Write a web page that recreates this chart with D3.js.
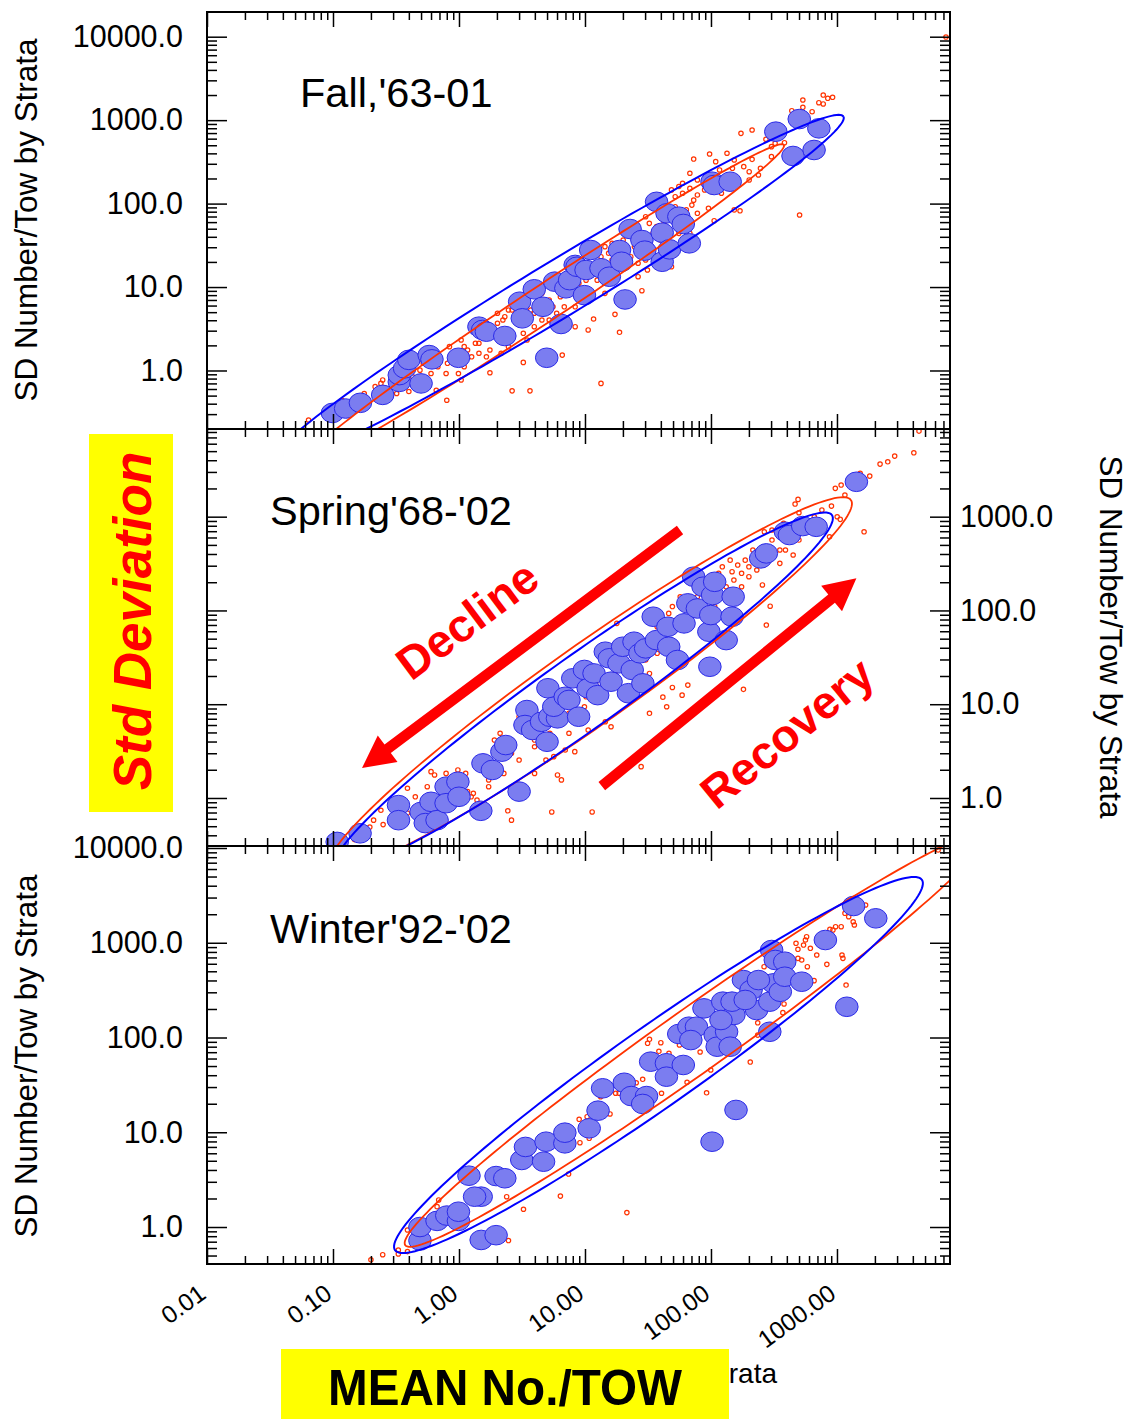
<!DOCTYPE html>
<html>
<head>
<meta charset="utf-8">
<script src="https://cdn.jsdelivr.net/npm/d3@7"></script>
<style>
  body { margin: 0; background: #fff; }
  svg { display: block; }
  text { font-family: Arial, "Liberation Sans", sans-serif; }
</style>
</head>
<body>
<div id="chart"></div>
<script>
// ---------- data (mean no./tow, SD no./tow) ----------
const xTickValues = [0.01, 0.1, 1, 10, 100, 1000];
const xTickLabels = ["0.01", "0.10", "1.00", "10.00", "100.00", "1000.00"];
const yTickValues = [1, 10, 100, 1000, 10000];
const yTickLabels = ["1.0", "10.0", "100.0", "1000.0", "10000.0"];
const panelTitles = ["Fall,'63-01", "Spring'68-'02", "Winter'92-'02"];

// big blue markers
const fallBlue = [[0.099,0.31],[0.126,0.35],[0.165,0.41],[0.248,0.51],[0.336,0.73],[0.336,0.88],[0.37,1.06],[0.40,1.34],[0.50,0.70],[0.58,1.53],[0.61,1.36],[0.99,1.42],[1.44,3.35],[1.54,3.06],[1.65,2.92],[2.31,2.59],[3.03,6.67],[3.18,4.22],[3.96,9.4],[4.64,5.8],[4.97,1.42],[5.75,11.6],[6.46,3.61],[7.05,9.66],[7.55,12.1],[8.36,18.4],[8.65,17.5],[9.9,8.0],[10.2,16.0],[11.1,27.8],[13.4,16.8],[15.6,13.3],[18.8,27.8],[19.5,20.1],[20.8,7.1],[22.8,49.6],[28.3,36.6],[29.8,27.3],[37,105],[41,44.8],[41,20.1],[44.8,76.5],[46.9,28.3],[55.6,69.7],[60.3,57],[67.3,33.4],[102,183],[106,167],[142,183],[327,728],[502,1030],[718,798],[448,372],[658,439]];

const springBlue = [[0.108,0.34],[0.164,0.42],[0.331,0.84],[0.331,0.58],[0.50,0.71],[0.60,0.91],[0.54,0.54],[0.67,0.58],[0.79,1.32],[0.98,1.49],[0.79,0.88],[1.0,1.03],[1.49,0.73],[1.55,2.34],[1.84,1.99],[2.19,3.12],[2.35,3.67],[3.0,1.17],[3.46,8.67],[3.34,6.0],[3.84,5.31],[4.52,6.5],[5.0,3.98],[5.26,7.36],[6.05,7.07],[5.08,14.8],[5.65,9.4],[6.97,12.0],[7.46,11.1],[8.0,18.9],[8.9,7.36],[9.9,23.2],[10.6,14.8],[11.8,21.3],[12.6,12.5],[14.5,36.3],[15.6,30.9],[16.1,17.4],[18.6,27.3],[19.9,41],[22.1,13.1],[23.7,23.2],[24.5,46.4],[27.3,34.9],[28.8,16.7],[30.3,39.4],[34.8,85.7],[36.9,48.3],[45.5,67],[46.2,41],[54.2,29.6],[61.1,72.8],[65.5,119],[72.8,229],[78,105],[86.5,179],[96.2,59.3],[98,25.1],[99.6,89.3],[103,146],[107,202],[132,48.3],[150,140],[147,85.7],[248,359],[275,406],[390,690],[419,637],[535,794],[684,780],[1426,2355]];

const winterBlue = [[0.49,0.72],[0.49,1.0],[0.67,1.16],[0.80,1.32],[0.99,1.16],[0.99,1.45],[1.2,3.48],[1.50,0.73],[1.97,0.82],[1.50,2.09],[1.33,2.09],[1.97,3.45],[2.31,3.27],[3.15,5.1],[3.37,7.0],[4.69,4.89],[4.91,7.95],[6.92,7.64],[6.92,9.9],[10.8,11.0],[12.7,16.9],[13.8,29.1],[20.5,33.3],[23.3,24.1],[30.8,24.1],[28.7,19.9],[33.2,55.6],[44.3,53.5],[44.3,38.6],[60.3,51.3],[55.5,109],[66.8,130],[76.7,130],[69.2,94],[88,203],[108,106],[112,80],[133,115],[142,80],[124,239],[152,173],[147,239],[120,153],[158,17.2],[102,7.95],[181,404],[208,317],[230,195],[293,115],[293,239],[313,373],[355,304],[303,838],[324,658],[385,631],[385,438],[525,388],[809,1069],[1197,211],[1355,2443],[2032,1811],[238,404],[187,249]];

// small red markers
const fallRed = [[536,1743],[778,2000],[845,1828],[923,1879],[718,1618],[778,1563],[536,1426],[635,1262],[438,1298],[173,695],[212,762],[273,590],[302,481],[383,537],[323,528],[97.5,393],[72.9,342],[109,318],[153,333],[212,339],[182,277],[148,265],[201,241],[238,220],[201,192],[247,265],[505,73],[153,84],[170,82],[106,62.4],[95.5,87.9],[78,76.5],[70.5,96],[78,127],[68,152],[59.5,175],[59.5,133],[89,146],[102,139],[121,133],[52,121],[28.3,9.04],[17.3,4.71],[18.8,2.87],[13.4,0.70],[11.7,4.14],[10.6,3.06],[8.36,3.35],[6.6,1.53],[3.24,1.25],[2.64,0.57],[3.66,0.57],[1.76,0.94],[0.80,0.44],[0.66,0.58],[0.40,0.56],[0.32,0.53],[0.24,0.70],[0.064,0.255],[2.02,4.85],[2.31,4.41],[2.64,5.31],[3.03,4.85],[2.02,3.68],[1.76,2.79],[1.35,2.12],[1.10,1.93],[1.04,2.32],[0.84,1.93],[0.81,1.22],[0.68,1.11],[0.60,0.92],[0.79,0.92],[0.99,0.92],[1.04,0.77],[1.44,1.61],[1.65,1.46],[1.26,1.46],[1.76,1.76],[2.64,2.79],[3.24,2.79],[3.96,3.35],[5.2,4.03],[5.96,4.85],[6.85,5.8],[5.2,7.0],[4.55,8.4],[7.8,8.4],[8.95,11.1],[10.2,12.1],[12.5,12.1],[14.4,14.6],[13.4,23.1],[15.4,25.4],[14.4,30.5],[16.4,33.4],[20.1,36.6],[23.1,23.1],[26.4,19.3],[30.3,21.1],[32.4,58],[30.3,69.7],[37,52.9],[52,91.8],[55.6,44],[68,44],[39.7,36.6],[48.6,17.5],[39.7,17.5],[26.4,13.3],[31.3,16.0],[4.55,4.03],[3.71,5.31],[3.47,2.32],[2.47,1.93],[2.16,1.61],[0.49,1.01],[0.43,0.84],[0.30,0.77],[0.216,0.64],[0.177,0.53],[0.118,0.44],[48.6,146],[78,192],[134,192],[117,253],[68,231],[55.6,160],[302,365],[134,401],[7330,9910],[2.23,4.03],[2.47,5.31],[2.83,4.03],[3.47,4.41],[3.96,4.85],[4.87,5.31],[5.57,5.8],[6.38,7.66],[7.3,10.1],[11.7,14.6],[12.5,17.5],[16.4,21.1],[17.6,27.8],[24.7,30.5],[26.4,40.1],[34.7,44],[42.5,58],[45.4,84],[63.7,84],[72.9,110],[0.90,1.22],[1.10,1.11],[1.17,1.76],[1.44,2.12],[0.52,1.22],[0.35,0.92],[0.248,0.77],[10.2,7.0],[14.4,8.4],[8.36,5.8]];

const springRed = [[4074,4798],[2871,4426],[2530,3847],[2198,3637],[1641,690],[1820,2710],[1528,2897],[970,2004],[1079,2173],[1156,1700],[491,1529],[465,1363],[499,1101],[295,111],[275,69.9],[181,14.4],[449,390],[352,318],[256,187],[163,305],[200,229],[147,259],[175,179],[215,441],[265,690],[352,611],[390,441],[1062,936],[873,611],[65.5,16.0],[59,12.5],[49.4,15.1],[41.5,11.9],[44.5,9.4],[32.5,8.0],[27.9,2.16],[17.9,72.8],[11.4,0.71],[5.45,0.71],[6.5,1.56],[6.05,1.76],[8.3,3.12],[16.1,5.75],[14.5,6.5],[2.44,0.73],[2.61,0.58],[1.39,0.95],[1.25,1.03],[1.17,1.17],[0.79,1.83],[0.64,1.76],[0.60,1.91],[0.39,1.27],[0.25,0.52],[0.21,0.58],[0.30,0.78],[0.39,0.69],[1.60,2.76],[1.91,4.15],[2.12,4.9],[3.11,8.3],[3.0,7.36],[3.98,1.83],[4.9,2.54],[5.65,2.76],[6.97,3.25],[10.2,12.0],[13.1,13.1],[17.3,18.1],[30.3,29.6],[37.4,34.9],[32.5,21.3],[46.2,93],[49.4,110],[57,140],[132,179],[115,249],[142,344],[175,249],[200,292],[265,478],[305,563],[377,849],[305,720],[708,849],[759,1175],[904,1297],[1004,998],[661,998],[24.5,37.8],[21.3,23.2],[37.4,67],[10.6,5.31],[7.46,4.9],[3.98,4.15],[2.61,3.0],[3.46,4.9],[2.12,2.16],[1.72,1.56],[1.13,1.83],[0.98,1.99],[0.56,1.32],[0.45,1.03],[0.24,0.74],[0.196,0.49],[0.148,0.36],[86.5,194],[78,140],[107,110],[4477,8180],[123,292],[152,211],[187,344],[231,270],[99.6,129],[80.8,93],[61.1,110],[53.1,79],[43,57],[34.8,48.3],[28.2,34.9],[21.3,29.6],[17.3,21.3],[13.1,16.7],[9.9,9.4],[7.46,8.0],[5.26,4.9],[3.98,3.52],[3.0,2.54],[2.27,1.83],[1.72,1.32],[1.30,1.12],[499,563],[574,720],[352,441]];

const winterRed = [[0.20,0.45],[0.248,0.51],[0.33,0.57],[0.33,0.52],[0.39,0.55],[0.39,0.93],[0.69,1.93],[0.67,1.64],[1.33,1.78],[1.58,1.78],[2.39,2.09],[2.47,0.72],[3.25,1.54],[6.38,2.12],[7.41,3.62],[9.12,7.76],[8.99,13.7],[10.4,14.6],[10.8,8.63],[15.8,15.6],[13.3,23.7],[17.5,25.8],[18.7,25.8],[25.5,33.3],[28.7,36.2],[21.5,1.42],[32.5,95.7],[31.4,86.9],[38.6,71.5],[40,88.1],[46.4,68.1],[40.5,25.8],[64.6,33.7],[56.2,83.4],[82,70.3],[99.6,45.4],[92.3,26.1],[205,55.1],[235,106],[235,143],[194,239],[192,224],[380,226],[372,183],[264,559],[473,987],[490,853],[562,1069],[574,1158],[543,946],[615,874],[525,658],[490,685],[582,559],[691,743],[831,592],[1096,743],[1115,685],[658,398],[879,1387],[975,1477],[1080,1477],[929,1364],[1157,2046],[1239,1884],[1345,1667],[1374,1539],[1687,2503],[1181,358],[6353,9530]];

// confidence ellipses: [centre, end of major axis, end of minor axis]
const fallRedEllipse = [[4.56,6.1],[379,505],[3.8,9.22]];
const fallBlueEllipse = [[6.0,9.22],[1125,1106],[4.6,17.8]];
const springRedEllipse = [[11.0,16.4],[1291,1503],[7.2,36.5]];
const springBlueEllipse = [[9.73,13.7],[912,1040],[6.58,28.7]];
const winterRedEllipse = [[74.6,94.1],[14860,13770],[53.2,177]];
const winterBlueEllipse = [[38.3,51.3],[4721,4617],[25.2,113.5]];

// annotation arrows on the spring panel: [tail, tip]
const declineArrow = [[56.8,720],[0.17,2.09]];
const recoveryArrow = [[13.6,1.34],[1426,220]];
const declineLabelAt = [1.16,79];
const recoveryLabelAt = [401,4.93];

// ---------- layout ----------
const width = 1130, height = 1419;
const left = 207, right = 950;
const xDomain = [0.01, 7890];
const panels = [
  {top: 12,  bottom: 429,  yDomain: [0.199, 19770], blue: fallBlue,   red: fallRed,   ell: [fallRedEllipse, fallBlueEllipse],     side: "left",  titleX: 300, titleY: 107, labelY: 220},
  {top: 429, bottom: 846,  yDomain: [0.3076, 8610], blue: springBlue, red: springRed, ell: [springRedEllipse, springBlueEllipse], side: "right", titleX: 270, titleY: 525, labelY: 637},
  {top: 846, bottom: 1264, yDomain: [0.407, 10500], blue: winterBlue, red: winterRed, ell: [winterRedEllipse, winterBlueEllipse], side: "left",  titleX: 270, titleY: 943, labelY: 1056}
];
const redLine = "#ff3300", blueLine = "#0000ff";
const fontFam = "Arial, 'Liberation Sans', sans-serif";

const svg = d3.select("#chart").append("svg")
  .attr("width", width)
  .attr("height", height)
  .style("background-color", "white");

const x = d3.scaleLog().domain(xDomain).range([left, right]);

function majorTicks(lo, hi) {
  const out = [];
  for (let e = Math.floor(Math.log10(lo)); e <= Math.ceil(Math.log10(hi)); e++) {
    const v = Math.pow(10, e);
    if (v >= lo * 0.999 && v <= hi * 1.001) out.push(v);
  }
  return out;
}
function minorTicks(lo, hi) {
  const out = [];
  for (let e = Math.floor(Math.log10(lo)); e <= Math.ceil(Math.log10(hi)); e++)
    for (let k = 2; k <= 9; k++) {
      const v = k * Math.pow(10, e);
      if (v >= lo && v <= hi) out.push(v);
    }
  return out;
}

function ellipsePath(y, e) {
  const [c, m, n] = e;
  const cx = x(c[0]), cy = y(c[1]);
  const ax = x(m[0]) - cx, ay = y(m[1]) - cy;
  const bx = x(n[0]) - cx, by = y(n[1]) - cy;
  const pts = d3.range(0, 361, 2).map(a => {
    const t = a * Math.PI / 180;
    return [cx + Math.cos(t) * ax + Math.sin(t) * bx, cy + Math.cos(t) * ay + Math.sin(t) * by];
  });
  return d3.line()(pts);
}

function arrowPath(p0, p1, shaft, headLen, headW) {
  const dx = p1[0] - p0[0], dy = p1[1] - p0[1], len = Math.hypot(dx, dy);
  const ux = dx / len, uy = dy / len, nx = -uy, ny = ux;
  const bx = p1[0] - ux * headLen, by = p1[1] - uy * headLen;
  const pts = [
    [p0[0] + nx * shaft / 2, p0[1] + ny * shaft / 2],
    [bx + nx * shaft / 2, by + ny * shaft / 2],
    [bx + nx * headW / 2, by + ny * headW / 2],
    p1,
    [bx - nx * headW / 2, by - ny * headW / 2],
    [bx - nx * shaft / 2, by - ny * shaft / 2],
    [p0[0] - nx * shaft / 2, p0[1] - ny * shaft / 2]
  ];
  return "M" + pts.map(p => p.join(",")).join("L") + "Z";
}

function styleTicks(g) {
  g.select(".domain").remove();
  g.selectAll(".tick line").attr("stroke", "black").attr("stroke-width", 1.5);
}

const xMajor = xTickValues;
const xMinor = minorTicks(xDomain[0], xDomain[1]);

panels.forEach((p, i) => {
  const y = d3.scaleLog().domain(p.yDomain).range([p.bottom, p.top]);
  p.y = y;
  const yMajor = majorTicks(p.yDomain[0], p.yDomain[1]);
  const yMinor = minorTicks(p.yDomain[0], p.yDomain[1]);

  const clipId = "clip" + i;
  svg.append("clipPath").attr("id", clipId)
    .append("rect").attr("x", left).attr("y", p.top)
    .attr("width", right - left).attr("height", p.bottom - p.top);

  const plot = svg.append("g").attr("clip-path", `url(#${clipId})`);

  // small red markers
  plot.selectAll("circle.red")
    .data(p.red)
    .enter()
    .append("circle")
    .attr("class", "red")
    .attr("cx", d => x(d[0]))
    .attr("cy", d => y(d[1]))
    .attr("r", 2.2)
    .attr("fill", "none")
    .attr("stroke", redLine)
    .attr("stroke-width", 1.2);

  // big blue markers
  plot.selectAll("ellipse.blue")
    .data(p.blue)
    .enter()
    .append("ellipse")
    .attr("class", "blue")
    .attr("cx", d => x(d[0]))
    .attr("cy", d => y(d[1]))
    .attr("rx", 11.3)
    .attr("ry", 9.8)
    .attr("fill", "#7b7df0")
    .attr("stroke", "#2b2be8")
    .attr("stroke-width", 1);

  // confidence ellipses
  plot.append("path").attr("d", ellipsePath(y, p.ell[0]))
    .attr("fill", "none").attr("stroke", redLine).attr("stroke-width", 1.8);
  plot.append("path").attr("d", ellipsePath(y, p.ell[1]))
    .attr("fill", "none").attr("stroke", blueLine).attr("stroke-width", 2);

  // inward ticks on all four sides
  const axes = [
    [d3.axisBottom(x), `translate(0,${p.bottom})`, xMajor, xMinor, 15, 8],
    [d3.axisTop(x), `translate(0,${p.top})`, xMajor, xMinor, 15, 8],
    [d3.axisLeft(y), `translate(${left},0)`, yMajor, yMinor, 20, 10],
    [d3.axisRight(y), `translate(${right},0)`, yMajor, yMinor, 20, 10]
  ];
  axes.forEach(([ax, tr, maj, min, lMaj, lMin]) => {
    svg.append("g").attr("transform", tr)
      .call(ax.tickValues(maj).tickSize(-lMaj).tickFormat(""))
      .call(styleTicks);
    svg.append("g").attr("transform", tr)
      .call(ax.tickValues(min).tickSize(-lMin).tickFormat(""))
      .call(styleTicks);
  });

  // frame
  svg.append("rect")
    .attr("x", left).attr("y", p.top)
    .attr("width", right - left).attr("height", p.bottom - p.top)
    .attr("fill", "none").attr("stroke", "black").attr("stroke-width", 2);

  // tick labels + axis title
  const labelVals = yTickValues.filter(v => v >= p.yDomain[0] && v <= p.yDomain[1]);
  const fmt = v => yTickLabels[yTickValues.indexOf(v)];
  if (p.side === "left") {
    const g = svg.append("g").attr("transform", `translate(${left},0)`)
      .call(d3.axisLeft(y).tickValues(labelVals).tickSize(0).tickPadding(24).tickFormat(fmt));
    g.select(".domain").remove();
    g.selectAll("text").attr("font-size", 30.5).attr("font-family", fontFam).attr("fill", "black");
    svg.append("text")
      .attr("transform", `translate(37,${p.labelY}) rotate(-90)`)
      .attr("text-anchor", "middle")
      .attr("font-size", 31.4)
      .text("SD Number/Tow by Strata");
  } else {
    const g = svg.append("g").attr("transform", `translate(${right},0)`)
      .call(d3.axisRight(y).tickValues(labelVals).tickSize(0).tickPadding(10).tickFormat(fmt));
    g.select(".domain").remove();
    g.selectAll("text").attr("font-size", 30.5).attr("font-family", fontFam).attr("fill", "black");
    svg.append("text")
      .attr("transform", `translate(1100,${p.labelY}) rotate(90)`)
      .attr("text-anchor", "middle")
      .attr("font-size", 31.4)
      .text("SD Number/Tow by Strata");
  }

  // panel title
  svg.append("text")
    .attr("x", p.titleX).attr("y", p.titleY)
    .attr("font-size", 41.5)
    .text(panelTitles[i]);
});

// bottom x tick labels (rotated)
const xl = svg.append("g").attr("transform", `translate(0,${panels[2].bottom})`)
  .call(d3.axisBottom(x).tickValues(xTickValues).tickSize(0).tickFormat((d, i) => xTickLabels[i]));
xl.select(".domain").remove();
xl.selectAll("text")
  .attr("y", 0).attr("dy", null)
  .attr("transform", "translate(0,33) rotate(-36)")
  .attr("text-anchor", "end")
  .attr("font-size", 24.5)
  .attr("font-family", fontFam)
  .attr("fill", "black");

// x axis title (mostly hidden behind the yellow label)
svg.append("text")
  .attr("x", 777).attr("y", 1383)
  .attr("text-anchor", "end")
  .attr("font-size", 28)
  .text("Mean Number/Tow by Strata");

// arrows and labels on the spring panel
const ys = panels[1].y;
const pt = d => [x(d[0]), ys(d[1])];
[declineArrow, recoveryArrow].forEach(a => {
  svg.append("path")
    .attr("d", arrowPath(pt(a[0]), pt(a[1]), 10.5, 32, 33))
    .attr("fill", "#ff0000");
});
function angleOf(a, b) {
  const p0 = pt(a), p1 = pt(b);
  return Math.atan2(p1[1] - p0[1], p1[0] - p0[0]) * 180 / Math.PI;
}
const decAng = angleOf(declineArrow[1], declineArrow[0]);
const recAng = angleOf(recoveryArrow[0], recoveryArrow[1]);
const decP = pt(declineLabelAt), recP = pt(recoveryLabelAt);
svg.append("text")
  .attr("transform", `translate(${decP[0]},${decP[1]}) rotate(${decAng})`)
  .attr("text-anchor", "middle").attr("dominant-baseline", "central")
  .attr("font-size", 46).attr("font-weight", "bold").attr("fill", "#ff0000")
  .text("Decline");
svg.append("text")
  .attr("transform", `translate(${recP[0]},${recP[1]}) rotate(${recAng})`)
  .attr("text-anchor", "middle").attr("dominant-baseline", "central")
  .attr("font-size", 46).attr("font-weight", "bold").attr("fill", "#ff0000")
  .text("Recovery");

// yellow labels
svg.append("rect").attr("x", 89).attr("y", 434).attr("width", 84).attr("height", 378).attr("fill", "#ffff00");
svg.append("text")
  .attr("transform", "translate(151,621) rotate(-90)")
  .attr("text-anchor", "middle")
  .attr("font-size", 53).attr("font-weight", "bold").attr("font-style", "italic")
  .attr("fill", "#ff0000")
  .text("Std Deviation");

svg.append("rect").attr("x", 281).attr("y", 1349).attr("width", 448).attr("height", 75).attr("fill", "#ffff00");
svg.append("text")
  .attr("x", 505).attr("y", 1405)
  .attr("text-anchor", "middle")
  .attr("font-size", 50).attr("font-weight", "bold")
  .attr("textLength", 354).attr("lengthAdjust", "spacingAndGlyphs")
  .attr("fill", "black")
  .text("MEAN No./TOW");
</script>
</body>
</html>
